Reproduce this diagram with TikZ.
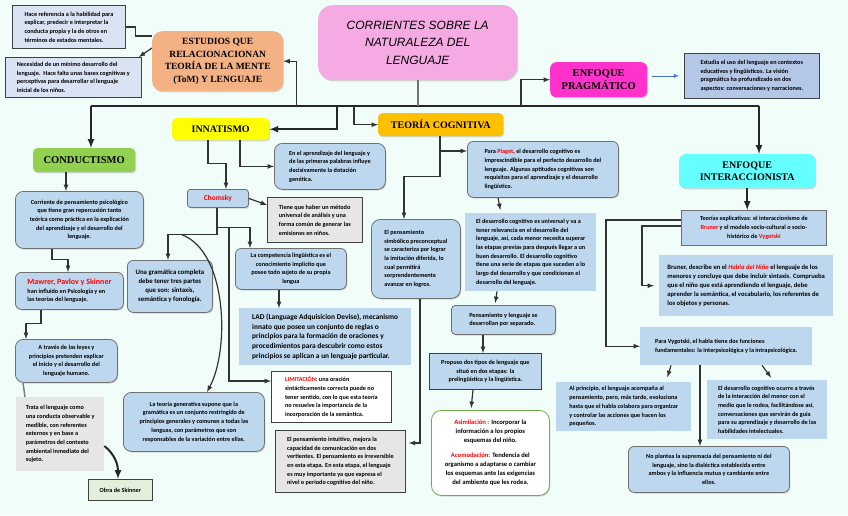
\documentclass[tikz,border=0pt]{standalone}
\usepackage{fontspec}
\setmainfont{Carlito}
\newfontfamily\headfont{Liberation Serif}
\newfontfamily\titlefont{Liberation Sans}
\usetikzlibrary{shadows}

\definecolor{fondo}{RGB}{241,253,248}
\definecolor{celeste}{RGB}{189,215,238}
\definecolor{notaazul}{RGB}{218,227,243}
\definecolor{azulprag}{RGB}{180,199,231}
\definecolor{gris}{RGB}{231,230,230}
\definecolor{salmon}{RGB}{244,177,131}
\definecolor{rosa}{RGB}{246,170,228}
\definecolor{fucsia}{RGB}{255,51,204}
\definecolor{amarillo}{RGB}{255,255,0}
\definecolor{naranja}{RGB}{255,192,0}
\definecolor{verde}{RGB}{146,208,80}
\definecolor{cian}{RGB}{102,255,255}
\definecolor{verdeclaro}{RGB}{226,239,218}
\definecolor{verdeborde}{RGB}{112,173,71}
\definecolor{borde}{RGB}{112,112,112}
\definecolor{rojo}{RGB}{255,0,0}
\definecolor{flecha}{RGB}{68,114,196}

\tikzset{
  texto/.style={font=\bfseries\fontsize{6.2}{8.7}\selectfont, inner sep=3pt, anchor=north west},
  sombra/.style={drop shadow={shadow xshift=1pt, shadow yshift=-1.2pt, opacity=0.3}},
  redondo/.style={texto, rounded corners=6pt, fill=celeste, draw=borde, line width=0.8pt, sombra},
  plano/.style={texto, fill=celeste},
  nota/.style={texto, draw=black!75, line width=0.8pt},
  cabecera/.style={font=\headfont\bfseries\fontsize{10}{12.5}\selectfont, align=center, anchor=north west, rounded corners=4pt, sombra},
  bus/.style={line width=2pt, black!85},
  enlace/.style={line width=1.2pt, black!80}
}

\begin{document}
\begin{tikzpicture}[x=1pt, y=-1pt, >=latex]
        \path[use as bounding box, fill=fondo] (0,0) rectangle (848,515);

        \node[cabecera, fill=rosa, rounded corners=14pt, font=\titlefont\itshape\fontsize{12}{17.5}\selectfont, minimum width=199pt, minimum height=75pt] (titulo) at (318,5) {CORRIENTES SOBRE LA\\NATURALEZA DEL\\LENGUAJE};
        \node[cabecera, fill=salmon, rounded corners=10pt, font=\headfont\bfseries\fontsize{9.5}{12.5}\selectfont, minimum width=131pt, minimum height=60pt] (tom) at (152,31) {ESTUDIOS QUE\\RELACIONACIONAN\\TEORÍA DE LA MENTE\\(ToM) Y LENGUAJE};
        \node[nota, fill=notaazul, align=left, minimum width=113pt, minimum height=43pt] (hace) at (12,5) {Hace referencia a la habilidad para\\explicar, predecir e interpretar la\\conducta propia y la de otros en\\términos de estados mentales.};
        \node[nota, fill=notaazul, align=left, minimum width=136pt, minimum height=40pt] (necesidad) at (5,57) {Necesidad de un mínimo desarrollo del\\lenguaje.\ \ Hace falta unas bases cognitivas y\\perceptivas para desarrollar el lenguaje\\inicial de los niños.};

        \node[cabecera, fill=verde, font=\headfont\bfseries\fontsize{10.5}{12.5}\selectfont, minimum width=102pt, minimum height=24pt] (conductismo) at (33,148) {CONDUCTISMO};
        \node[cabecera, fill=amarillo, minimum width=97pt, minimum height=22pt] (innatismo) at (172,118) {INNATISMO};
        \node[cabecera, fill=naranja, minimum width=125pt, minimum height=23pt] (cognitiva) at (378,113) {TEORÍA COGNITIVA};
        \node[cabecera, fill=fucsia, rounded corners=6pt, font=\headfont\bfseries\fontsize{10.5}{12.5}\selectfont, minimum width=97pt, minimum height=35pt] (pragmatico) at (550,62) {ENFOQUE\\PRAGMÁTICO};
        \node[cabecera, fill=cian, rounded corners=6pt, minimum width=136pt, minimum height=34pt] (interaccionista) at (679,154) {ENFOQUE\\INTERACCIONISTA};

        \node[nota, fill=azulprag, align=left, minimum width=135pt, minimum height=45pt] (pragnota) at (684,53) {Estudia el uso del lenguaje en contextos\\educativos y lingüísticos. La visión\\pragmática ha profundizado en dos\\aspectos: conversaciones y narraciones.};
        \node[nota, fill=celeste, draw=borde, align=center, minimum width=145pt, minimum height=35pt] (teorias) at (681,210) {Teorías explicativas: el interaccionismo de\\\textcolor{rojo}{Bruner} y el modelo socio-cultural o socio-\\histórico de \textcolor{rojo}{Vygotski}};
        \node[plano, font=\bfseries\fontsize{6.6}{9}\selectfont, align=left, minimum width=174pt, minimum height=61pt] (bruner) at (659,255) {Bruner, describe en el \textcolor{rojo}{\itshape Habla del Niño} el lenguaje de los\\menores y concluye que debe incluir sintaxis. Comprueba\\que el niño que está aprendiendo el lenguaje, debe\\aprender la semántica, el vocabulario, los referentes de\\los objetos y personas.};
        \node[plano, align=left, minimum width=172pt, minimum height=38pt] (vygotski) at (640,327) {Para Vygotski, el habla tiene dos funciones\\fundamentales: la interpsicológica y la intrapsicológica.};
        \node[plano, align=left, minimum width=135pt, minimum height=49pt] (alprincipio) at (556,382) {Al principio, el lenguaje acompaña al\\pensamiento, pero, más tarde, evoluciona\\hasta que el habla colabora para organizar\\y controlar las acciones que hacen los\\pequeños.};
        \node[plano, align=left, minimum width=120pt, minimum height=59pt] (interaccion) at (707,380) {El desarrollo cognitivo ocurre a través\\de la interacción del menor con el\\medio que le rodea, facilitándose así,\\conversaciones que servirán de guía\\para su aprendizaje y desarrollo de las\\habilidades intelectuales.};
        \node[redondo, align=center, minimum width=161pt, minimum height=46pt] (noplantea) at (628,446) {No plantea la supremacía del pensamiento ni del\\lenguaje, sino la dialéctica establecida entre\\ambos y la influencia mutua y cambiante entre\\ellos.};

        \node[redondo, align=left, minimum width=151pt, minimum height=56pt] (piaget) at (467,141) {Para \textcolor{rojo}{Piaget}, el desarrollo cognitivo es\\imprescindible para el perfecto desarrollo del\\lenguaje. Algunas aptitudes cognitivas son\\requisitos para el aprendizaje y el desarrollo\\lingüístico.};
        \node[plano, align=left, minimum width=131pt, minimum height=78pt] (universal) at (465,213) {El desarrollo cognitivo es universal y va a\\tener relevancia en el desarrollo del\\lenguaje, así, cada menor necesita superar\\las etapas previas para después llegar a un\\buen desarrollo. El desarrollo cognitivo\\tiene una serie de etapas que suceden a lo\\largo del desarrollo y que condicionan el\\desarrollo del lenguaje.};
        \node[redondo, rounded corners=4pt, align=left, minimum width=104pt, minimum height=29pt] (separado) at (451,305) {Pensamiento y lenguaje se\\desarrollan por separado.};
        \node[nota, fill=celeste, align=center, minimum width=112pt, minimum height=36pt] (propuso) at (429,353) {Propuso dos tipos de lenguaje que\\situó en dos etapas: la\\prelingüística y la lingüística.};
        \node[redondo, fill=white, draw=verdeborde, rounded corners=10pt, font=\bfseries\fontsize{6.6}{9}\selectfont, align=center, minimum width=118pt, minimum height=85pt] (asimilacion) at (431,410) {\textcolor{rojo}{Asimilación :} Incorporar la\\información a los propios\\esquemas del niño.\\[6pt]\textcolor{rojo}{Acomodación:} Tendencia del\\organismo a adaptarse o cambiar\\los esquemas ante las exigencias\\del ambiente que les rodea.};
        \node[redondo, rounded corners=9pt, align=left, minimum width=89pt, minimum height=79pt] (simbolico) at (371,219) {El pensamiento\\simbólico preconceptual\\se caracteriza por lograr\\la imitación diferida, lo\\cual permitirá\\sorprendentemente\\avanzar en logros.};
        \node[nota, fill=gris, align=left, minimum width=130pt, minimum height=62pt] (intuitivo) at (275,430) {El pensamiento intuitivo, mejora la\\capacidad de comunicación en dos\\vertientes. El pensamiento es irreversible\\en esta etapa. En esta etapa, el lenguaje\\es muy importante ya que expresa el\\nivel o periodo cognitivo del niño.};
        \node[nota, fill=white, align=left, minimum width=120pt, minimum height=51pt] (limitacion) at (271,371) {\textcolor{rojo}{LIMITACIÓN}: una oración\\sintácticamente correcta puede no\\tener sentido, con lo que esta teoría\\no resuelve la importancia de la\\incorporación de la semántica.};

        \node[redondo, rounded corners=8pt, align=left, minimum width=111pt, minimum height=46pt] (aprendizaje) at (274,143) {En el aprendizaje del lenguaje y\\de las primeras palabras influye\\decisivamente la dotación\\genética.};
        \node[redondo, rounded corners=3pt, font=\bfseries\fontsize{7.5}{9}\selectfont, align=center, minimum width=61pt, minimum height=18pt] (chomsky) at (187,189) {\textcolor{rojo}{Chomsky}};
        \node[nota, fill=gris, align=left, minimum width=95pt, minimum height=45pt] (metodo) at (267,197) {Tiene que haber un método\\universal de análisis y una\\forma común de generar las\\emisiones en niños.};
        \node[redondo, align=center, minimum width=111pt, minimum height=41pt] (competencia) at (235,248) {La competencia lingüística es el\\conocimiento implícito que\\posee todo sujeto de su propia\\lengua};
        \node[plano, font=\bfseries\fontsize{7.4}{9.6}\selectfont, align=left, minimum width=172pt, minimum height=57pt] (lad) at (239,308) {LAD (Language Adquisicion Devise), mecanismo\\innato que posee un conjunto de reglas o\\principios para la formación de oraciones y\\procedimientos para descubrir como estos\\principios se aplican a un lenguaje particular.};
        \node[redondo, font=\bfseries\fontsize{6.8}{9}\selectfont, align=center, minimum width=85pt, minimum height=52pt] (gramatica) at (127,260) {Una gramática completa\\debe tener tres partes\\que son: sintaxis,\\semántica y fonología.};
        \node[redondo, rounded corners=8pt, align=center, minimum width=141pt, minimum height=59pt] (generativa) at (123,392) {La teoría generativa supone que la\\gramática es un conjunto restringido de\\principios generales y comunes a todas las\\lenguas, con parámetros que son\\responsables de la variación entre ellas.};

        \node[redondo, rounded corners=8pt, align=center, minimum width=128pt, minimum height=57pt] (corriente) at (15,191) {Corriente de pensamiento psicológico\\que tiene gran repercusión tanto\\teórica como práctica en la explicación\\del aprendizaje y el desarrollo del\\lenguaje.};
        \node[redondo, align=left, minimum width=108pt, minimum height=37pt] (mawrer) at (15,272) {{\fontsize{8}{10}\selectfont\textcolor{rojo}{Mawrer, Pavlov y Skinner}}\\han influido en Psicología y en\\las teorías del lenguaje.};
        \node[redondo, rounded corners=8pt, align=center, minimum width=102pt, minimum height=43pt] (atraves) at (15,339) {A través de las leyes y\\principios pretenden explicar\\el inicio y el desarrollo del\\lenguaje humano.};
        \node[texto, fill=gris, align=left, minimum width=88pt, minimum height=74pt] (trata) at (16,397) {Trata el lenguaje como\\una conducta observable y\\medible, con referentes\\externos y en base a\\parámetros del contexto\\ambiental inmediato del\\sujeto.};
        \node[nota, fill=verdeclaro, align=center, minimum width=64pt, minimum height=21pt] (skinner) at (88,479) {Obra de Skinner};

        \coordinate (busL) at (91,106);
        \coordinate (busR) at (759,106);
        \draw[bus] (busL) -- (busR);
        \draw[bus, black!55] (titulo.south) -- (titulo.south |- busL);
        \draw[bus,->] (busL) -- (busL |- conductismo.north);
        \draw[bus,->] (busR) -- (busR |- interaccionista.north);
        \draw[bus,<-] (innatismo.east) -- ++(68,0) -- ++(0,-23);
        \draw[enlace,<-] (tom.east) -- ++(13,0) -- ++(0,45);
        \draw[enlace,<-] (cognitiva.west) -- ++(-24,0) -- ++(0,-18.5);
        \draw[enlace,<-] (pragmatico.west) -- ++(-29,0) -- ++(0,26.5);
        \draw[enlace] (hace.east) -- ++(10,0) |- ([yshift=-5pt]tom.north west);
        \draw[enlace,->] ([yshift=-17pt]tom.north west) -- ([xshift=-3pt]necesidad.north east);
        \draw[thick, flecha,->] ([xshift=5pt]pragmatico.east |- pragnota.west) -- ([xshift=-5pt]pragnota.west);

        \draw[bus,->] (interaccionista.south) -- (interaccionista.south |- teorias.north);
        \draw[enlace,->] ([yshift=-16pt]teorias.north west) -- ++(-39,0) |- ([xshift=-5pt]bruner.west);
        \draw[enlace,->] ([yshift=-10pt]teorias.north west) -- ++(-75,0) |- (vygotski.west);
        \draw[enlace,->, shorten >=5pt] ([xshift=31pt]vygotski.south west) -- ([xshift=110pt]alprincipio.north west);
        \draw[enlace,->] ([xshift=60pt]vygotski.south west) -- ([xshift=60pt]vygotski.south west |- noplantea.north);
        \draw[enlace,->, shorten >=3pt] ([xshift=122pt]vygotski.south west) -- ([xshift=66pt]interaccion.north west);

        \draw[enlace,->] ([xshift=62pt]cognitiva.south west) -- ++(0,40) -| ([xshift=33pt]simbolico.north west);
        \draw[enlace,<-] ([yshift=-10pt]piaget.north west) -- ++(-27,0);
        \draw[enlace,->, shorten >=3pt] ([xshift=31pt]piaget.south west) -- ([xshift=36pt]universal.north west);
        \draw[enlace,->, shorten >=2pt] ([xshift=32pt]universal.south west) -- ([xshift=44pt]separado.north west);
        \draw[enlace,->] ([xshift=32pt]separado.south west) -- ([xshift=32pt]separado.south west |- propuso.north);
        \draw[enlace,->, shorten >=2pt] ([xshift=44pt]propuso.south west) -- ([xshift=40pt]asimilacion.north west);
        \draw[enlace,->, shorten >=3pt] ([xshift=49pt]simbolico.south west) |- ([yshift=-13pt]intuitivo.north east);

        \draw[enlace,->] ([xshift=68pt]innatismo.south west) |- (aprendizaje.west);
        \draw[enlace,->] ([xshift=36pt]innatismo.south west) -- ++(0,23) -| ([xshift=39pt]chomsky.north west);
        \draw[enlace,->] (chomsky.east) -- ([yshift=-8pt]metodo.north west);
        \draw[enlace,->] ([xshift=30pt]chomsky.south west) -- ++(0,20) -| ([xshift=15pt]competencia.north west);
        \draw[enlace,->] ([xshift=30pt]chomsky.south west) -- ++(0,27) -| ([xshift=41pt]gramatica.north west);
        \draw[enlace,->] ([xshift=42pt]chomsky.south west) ++(0,20) |- ([yshift=-10pt]limitacion.north west);
        \draw[enlace,->] ([xshift=-5pt,yshift=-27pt]chomsky.south west) .. controls +(45,17) and +(23,-43) .. ([xshift=84pt]generativa.north west);
        \draw[enlace,->] ([xshift=44pt]competencia.south west) -- ([xshift=44pt]competencia.south west |- lad.north);

        \draw[enlace,->] ([xshift=33pt]conductismo.south west) -- ([xshift=33pt]conductismo.south west |- corriente.north);
        \draw[enlace,->] ([xshift=37pt]corriente.south west) -- ++(0,11) -| ([xshift=53pt]mawrer.north west);
        \draw[enlace,->] ([xshift=26pt]mawrer.south west) -- ++(0,14) -| ([xshift=11pt]atraves.north west);
        \draw[enlace, black!50, line width=1.5pt] ([xshift=8pt]atraves.south west) -- ([xshift=9pt]trata.north west);
        \draw[bus,->] ([yshift=-49pt]trata.north east) .. controls +(10,8) and +(0,-15) .. ([xshift=30pt]skinner.north west);
\end{tikzpicture}
\end{document}
